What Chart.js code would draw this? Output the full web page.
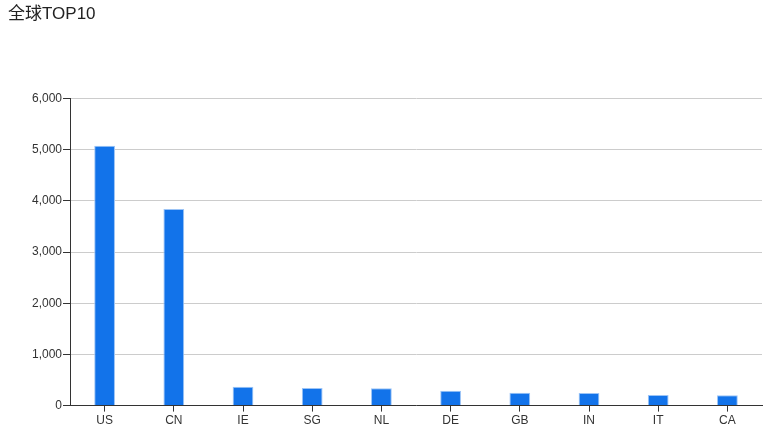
<!DOCTYPE html>
<html>
<head>
<meta charset="utf-8">
<script src="https://cdn.jsdelivr.net/npm/chart.js@4/dist/chart.umd.min.js"></script>
<style>
html,body{margin:0;padding:0;background:#fff;}
#wrap{width:771px;height:430px;}
</style>
</head>
<body>
<div id="wrap"><canvas id="c" width="771" height="430"></canvas></div>
<script>
const categories = ["US","CN","IE","SG","NL","DE","GB","IN","IT","CA"];
const values = [5075, 3840, 370, 345, 340, 292, 253, 248, 208, 200];
const yTicks = [0, 1000, 2000, 3000, 4000, 5000, 6000];

const FONT = "'Liberation Sans', 'Noto Sans CJK SC', Arial, sans-serif";
Chart.defaults.font.family = FONT;

new Chart(document.getElementById('c'), {
  type: 'bar',
  data: {
    labels: categories,
    datasets: [{
      data: values,
      backgroundColor: '#1273EA',
      borderColor: '#9cc4f6',
      borderWidth: 1,
      categoryPercentage: 1,
      barPercentage: 0.3
    }]
  },
  options: {
    responsive: false,
    animation: false,
    devicePixelRatio: 1,
    layout: { padding: { left: 8, right: 9, top: 0, bottom: 0 } },
    plugins: {
      legend: { display: false },
      tooltip: { enabled: false },
      title: {
        display: true,
        text: '全球TOP10',
        align: 'start',
        color: '#222',
        font: { size: 17, weight: 'normal', family: FONT },
        padding: { top: 4, bottom: 74 }
      }
    },
    scales: {
      x: {
        grid: { drawOnChartArea: false, offset: false, tickColor: '#333', tickLength: 6 },
        border: { color: '#333', width: 1 },
        ticks: { color: '#333', font: { size: 12 }, padding: 2 }
      },
      y: {
        min: 0, max: 6000,
        afterBuildTicks: (s) => { s.ticks = yTicks.map(v => ({ value: v })); },
        afterFit: (s) => { s.width = 62; },
        grid: { color: '#cccccc', tickColor: '#333', tickLength: 7 },
        border: { color: '#333', width: 1 },
        ticks: {
          color: '#333', font: { size: 12 }, padding: 1,
          callback: (v) => v.toLocaleString('en-US')
        }
      }
    }
  }
});
</script>
</body>
</html>
